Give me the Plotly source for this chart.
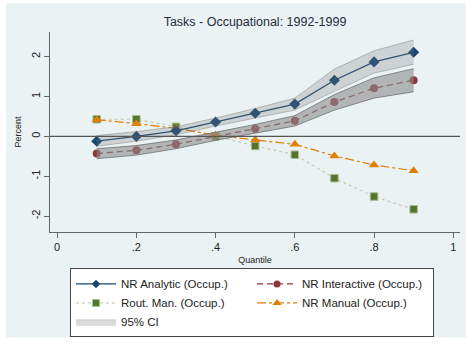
import plotly.graph_objects as go

# Quantiles of the wage distribution
quantile = [0.1, 0.2, 0.3, 0.4, 0.5, 0.6, 0.7, 0.8, 0.9]

# Coefficients by task measure (percent)
nr_analytic = [-0.12, 0.00, 0.14, 0.36, 0.58, 0.81, 1.41, 1.87, 2.11]
nr_analytic_lo = [-0.25, -0.12, 0.04, 0.26, 0.46, 0.66, 1.13, 1.59, 1.81]
nr_analytic_hi = [0.02, 0.12, 0.24, 0.46, 0.70, 0.96, 1.69, 2.15, 2.42]

nr_interactive = [-0.43, -0.35, -0.20, 0.00, 0.19, 0.39, 0.86, 1.21, 1.41]
nr_interactive_lo = [-0.56, -0.47, -0.31, -0.10, 0.08, 0.26, 0.66, 0.96, 1.12]
nr_interactive_hi = [-0.31, -0.23, -0.09, 0.10, 0.30, 0.52, 1.05, 1.47, 1.70]

rout_man = [0.43, 0.43, 0.24, 0.00, -0.24, -0.46, -1.05, -1.51, -1.83]
nr_manual = [0.42, 0.32, 0.20, 0.03, -0.09, -0.20, -0.49, -0.72, -0.86]

x_ticks = [0, 0.2, 0.4, 0.6, 0.8, 1]
x_tick_text = ["0", ".2", ".4", ".6", ".8", "1"]
y_ticks = [-2, -1, 0, 1, 2]
y_tick_text = ["-2", "-1", "0", "1", "2"]

NAVY = "#1a476f"
MAROON = "#90353b"
GREEN = "#55752f"
ORANGE = "#e37e00"
BLUISH = "#eaf2f3"
FONT = "Liberation Sans, Arial, sans-serif"

styles = {
    "NR Analytic (Occup.)": dict(
        line=dict(color=NAVY, width=1.3),
        marker=dict(symbol="diamond", color=NAVY)),
    "NR Interactive (Occup.)": dict(
        line=dict(color=MAROON, width=1.3, dash="6px,4px"),
        marker=dict(symbol="circle", color=MAROON)),
    "Rout. Man. (Occup.)": dict(
        line=dict(color="#c9cbb0", width=1.2, dash="dot"),
        marker=dict(symbol="square", color=GREEN, line=dict(color="#a8bd8f", width=1))),
    "NR Manual (Occup.)": dict(
        line=dict(color=ORANGE, width=1.2, dash="dashdot"),
        marker=dict(symbol="triangle-up", color=ORANGE)),
}
marker_sizes = {"NR Analytic (Occup.)": 8.5, "NR Interactive (Occup.)": 8,
                "Rout. Man. (Occup.)": 7.5, "NR Manual (Occup.)": 9}
legend_sizes = {"NR Analytic (Occup.)": 6.5, "NR Interactive (Occup.)": 7,
                "Rout. Man. (Occup.)": 7, "NR Manual (Occup.)": 8}


def series(name, y):
    st = styles[name]
    return go.Scatter(x=quantile, y=y, mode="lines+markers", name=name,
                      line=st["line"],
                      marker=dict(st["marker"], size=marker_sizes[name]),
                      showlegend=False)


fig = go.Figure()

# Point estimates (the bands are laid over them)
fig.add_trace(series("NR Interactive (Occup.)", nr_interactive))
fig.add_trace(series("Rout. Man. (Occup.)", rout_man))
fig.add_trace(series("NR Manual (Occup.)", nr_manual))
fig.add_trace(series("NR Analytic (Occup.)", nr_analytic))

# 95% confidence bands
fig.add_trace(go.Scatter(
    x=quantile, y=nr_analytic_lo, mode="lines",
    line=dict(color="rgba(120,120,120,0.45)", width=1),
    showlegend=False, hoverinfo="skip"))
fig.add_trace(go.Scatter(
    x=quantile, y=nr_analytic_hi, mode="lines", fill="tonexty",
    fillcolor="rgba(120,120,120,0.25)",
    line=dict(color="rgba(120,120,120,0.45)", width=1),
    showlegend=False, hoverinfo="skip"))
fig.add_trace(go.Scatter(
    x=quantile, y=nr_interactive_lo, mode="lines",
    line=dict(color="rgba(100,100,100,0.7)", width=1),
    showlegend=False, hoverinfo="skip"))
fig.add_trace(go.Scatter(
    x=quantile, y=nr_interactive_hi, mode="lines", fill="tonexty",
    fillcolor="rgba(140,140,140,0.6)",
    line=dict(color="rgba(100,100,100,0.7)", width=1),
    showlegend=False, hoverinfo="skip"))

# Legend keys with small markers
for name in ["NR Analytic (Occup.)", "NR Interactive (Occup.)",
             "Rout. Man. (Occup.)", "NR Manual (Occup.)"]:
    st = styles[name]
    fig.add_trace(go.Scatter(x=[None], y=[None], mode="lines+markers", name=name,
                             line=st["line"],
                             marker=dict(st["marker"], size=legend_sizes[name])))
fig.add_trace(go.Scatter(x=[None], y=[None], mode="lines", fill="toself",
                         fillcolor="#dcdcdc", name="95% CI",
                         line=dict(color="#c4c4c4", width=1)))

# Zero reference line
fig.add_hline(y=0, line=dict(color="#555555", width=1.2), layer="above")

W, H = 467, 345
ml, mr, mt, mb = 50, 7, 32, 110
pw, ph = W - ml - mr, H - mt - mb


def px_x(p):
    return (p - ml) / pw


def px_y(p):
    return (H - mb - p) / ph


# Outer graph region
fig.add_shape(type="rect", xref="paper", yref="paper",
              x0=px_x(6), x1=px_x(466), y0=px_y(342), y1=px_y(3),
              fillcolor=BLUISH, line=dict(width=0), layer="below")

fig.update_layout(
    width=W, height=H,
    margin=dict(l=ml, r=mr, t=mt, b=mb),
    paper_bgcolor="white", plot_bgcolor="white",
    font=dict(family=FONT, color="#222222", size=11),
    title=dict(text="Tasks - Occupational: 1992-1999", x=0.5, xref="paper",
               xanchor="center", y=1 - 22 / H, yanchor="middle",
               font=dict(size=12.5, color="#1e2d3c")),
    xaxis=dict(range=[-0.018, 1.017], tickvals=x_ticks, ticktext=x_tick_text,
               showgrid=False, zeroline=False, showline=True,
               linecolor="#666666", linewidth=1.2, ticks="outside", ticklen=5,
               tickcolor="#666666", tickfont=dict(size=11),
               title=dict(text="Quantile", font=dict(size=9), standoff=4)),
    yaxis=dict(range=[-2.4, 2.62], tickvals=y_ticks, ticktext=y_tick_text,
               tickangle=-90, showgrid=True, gridcolor=BLUISH, gridwidth=1,
               zeroline=False, showline=True, linecolor="#666666", linewidth=1.2,
               ticks="outside", ticklen=5, tickcolor="#666666",
               tickfont=dict(size=11),
               title=dict(text="Percent", font=dict(size=9), standoff=6)),
    legend=dict(orientation="h", x=px_x(70), y=px_y(272), xanchor="left",
                yanchor="top", bgcolor="white", bordercolor="#444444",
                borderwidth=1, font=dict(size=11.5, color="#222222"),
                itemwidth=40, entrywidth=126, tracegroupgap=0,
                traceorder="normal"),
    showlegend=True,
)

fig.write_html("out.html")
